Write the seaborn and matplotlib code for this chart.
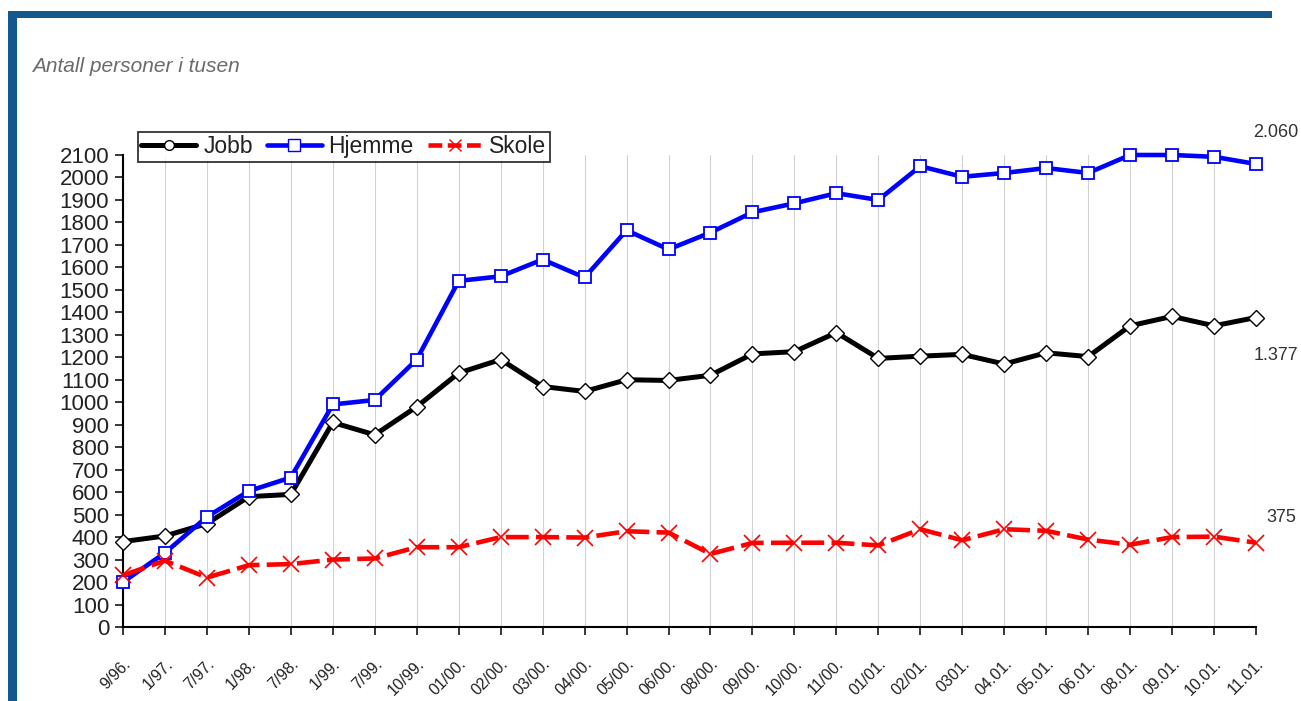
import matplotlib
matplotlib.use('Agg')
import matplotlib.pyplot as plt
from matplotlib.lines import Line2D
from matplotlib.patches import Rectangle
import seaborn as sns

periods = ['9/96.', '1/97.', '7/97.', '1/98.', '7/98.', '1/99.', '7/99.', '10/99.',
           '01/00.', '02/00.', '03/00.', '04/00.', '05/00.', '06/00.', '08/00.', '09/00.',
           '10/00.', '11/00.', '01/01.', '02/01.', '0301.', '04.01.', '05.01.', '06.01.',
           '08.01.', '09.01.', '10.01.', '11.01.']

jobb = [380, 405, 460, 580, 590, 910, 855, 980, 1130, 1190, 1070, 1048, 1100, 1097,
        1120, 1215, 1225, 1310, 1195, 1205, 1213, 1170, 1220, 1203, 1340, 1382, 1340, 1377]
hjemme = [200, 330, 490, 605, 665, 990, 1010, 1190, 1540, 1560, 1635, 1555, 1765, 1680,
          1755, 1845, 1885, 1930, 1900, 2050, 2003, 2020, 2042, 2020, 2100, 2100, 2092, 2060]
skole = [230, 295, 220, 275, 280, 300, 305, 355, 355, 400, 400, 398, 426, 420,
         325, 374, 375, 375, 363, 435, 386, 435, 428, 389, 366, 400, 402, 375]

end_labels = ['2.060', '1.377', '375']

sns.set_style('white')
plt.rcParams['font.family'] = ['Liberation Sans', 'DejaVu Sans']

fig = plt.figure(figsize=(13.01, 7.01), dpi=100)
ax = fig.add_axes([123 / 1301, 1 - 627 / 701, (1256 - 123) / 1301, (627 - 155) / 701])

x = list(range(len(periods)))

# vertical grid at each period
for xi in x:
    ax.axvline(xi, color='#d2d2d2', lw=0.8, zorder=0)

sns.lineplot(x=x, y=jobb, ax=ax, color='black', lw=3.6, marker='D', markersize=8,
             markerfacecolor='white', markeredgecolor='black', markeredgewidth=1.0,
             zorder=3, clip_on=False)
sns.lineplot(x=x, y=hjemme, ax=ax, color='#0000ff', lw=3.3, marker='s', markersize=9,
             markerfacecolor='white', markeredgecolor='#0000ff', markeredgewidth=1.3,
             zorder=4, clip_on=False)
sns.lineplot(x=x, y=skole, ax=ax, color='#ff0000', lw=3.3, marker='x', markersize=11,
             markeredgecolor='#ff0000', markeredgewidth=1.2, dashes=(5, 1.6), zorder=5,
             clip_on=False)

ax.set_xlim(0, len(periods) - 1)
ax.set_ylim(0, 2100)
ax.set_yticks(range(0, 2101, 100))
ax.set_xticks(x)
ax.set_xticklabels(periods, rotation=45, ha='right', rotation_mode='anchor', fontsize=11.5,
                   color='#222222')
ax.tick_params(axis='y', labelsize=16, length=6, width=1.3, direction='out', left=True,
               pad=4, labelcolor='#222222')
ax.tick_params(axis='x', length=6, width=1.3, direction='out', bottom=True, pad=15)
for side in ['top', 'right']:
    ax.spines[side].set_visible(False)
for side in ['left', 'bottom']:
    ax.spines[side].set_color('black')
    ax.spines[side].set_linewidth(1.5)
ax.set_xlabel('')
ax.set_ylabel('')

# end value labels
ax.annotate(end_labels[0], xy=(x[-1], hjemme[-1]), xytext=(14, 23), textcoords='offset points',
            ha='center', va='center', fontsize=13, color='#333333')
ax.annotate(end_labels[1], xy=(x[-1], jobb[-1]), xytext=(14, -27), textcoords='offset points',
            ha='center', va='center', fontsize=13, color='#333333')
ax.annotate(end_labels[2], xy=(x[-1], skole[-1]), xytext=(18, 18), textcoords='offset points',
            ha='center', va='center', fontsize=13, color='#333333')

handles = [
    Line2D([], [], color='black', lw=3.6, marker='o', markersize=7,
           markerfacecolor='white', markeredgecolor='black'),
    Line2D([], [], color='#0000ff', lw=3.3, marker='s', markersize=8,
           markerfacecolor='white', markeredgecolor='#0000ff'),
    Line2D([], [], color='#ff0000', lw=3.3, marker='x', markersize=9,
           markeredgecolor='#ff0000', dashes=(3, 1.2)),
]
leg = fig.legend(handles, ['Jobb', 'Hjemme', 'Skole'], loc='upper left',
                 bbox_to_anchor=(138 / 1301, 1 - 132 / 701), ncol=3, fontsize=16.5,
                 frameon=True, fancybox=False, handlelength=2.4, handletextpad=0.3,
                 columnspacing=0.6, borderpad=0.15, borderaxespad=0)
leg.get_frame().set_edgecolor('black')
leg.get_frame().set_linewidth(1.3)
for t in leg.get_texts():
    t.set_color('#222222')

fig.text(32 / 1301, 1 - 67 / 701, 'Antall personer i tusen', fontsize=15, style='italic',
         color='#6b6b6b', ha='left', va='center')

# frame border
fig.add_artist(Rectangle((8 / 1301, 1 - 18 / 701), (1272 - 8) / 1301, 7 / 701,
                         transform=fig.transFigure, color='#15598c', lw=0))
fig.add_artist(Rectangle((8 / 1301, 0), 9 / 1301, 1 - 11 / 701,
                         transform=fig.transFigure, color='#15598c', lw=0))

fig.savefig('out.png', dpi=100)
